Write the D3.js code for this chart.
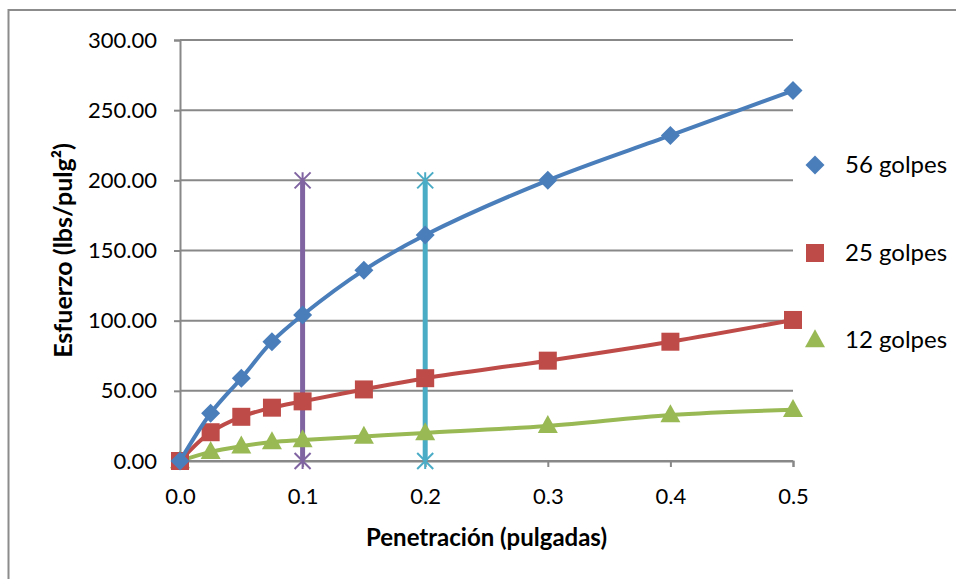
<!DOCTYPE html>
<html>
<head>
<meta charset="utf-8">
<script src="https://cdn.jsdelivr.net/npm/d3@7"></script>
<style>
  html, body { margin: 0; padding: 0; background: #fff; }
  svg { display: block; }
  text { font-family: Lato, "Open Sans", "Liberation Sans", sans-serif; fill: #000; }
</style>
</head>
<body>
<svg id="chart" width="956" height="579"></svg>
<script>
// Penetration (inches) for each reading
const penetracion = [0, 0.025, 0.05, 0.075, 0.1, 0.15, 0.2, 0.3, 0.4, 0.5];

// Stress (lbs/pulg²) per compaction level
const golpes56 = [0, 34, 59, 85, 104, 136, 161, 200, 232, 264];
const golpes25 = [0, 20.5, 31.5, 38, 42.5, 51, 59, 71.5, 85, 100.5];
const golpes12 = [0, 6.5, 10.5, 13.5, 15, 17.5, 20, 25, 32.8, 36.5];

// Reference lines at 0.1" and 0.2" penetration
const refX = [0.1, 0.2];
const refY = [0, 200];

const seriesNames = ["56 golpes", "25 golpes", "12 golpes"];
const xTicks = [0, 0.1, 0.2, 0.3, 0.4, 0.5];
const yTicks = [0, 50, 100, 150, 200, 250, 300];

const svg = d3.select("#chart");

// outer chart border
svg.append("rect")
  .attr("x", 8.5).attr("y", 10).attr("width", 1000).attr("height", 1000)
  .attr("fill", "none").attr("stroke", "#8c8c8c").attr("stroke-width", 2);

const x = d3.scaleLinear().domain([0, 0.5]).range([180, 793]);
const y = d3.scaleLinear().domain([0, 300]).range([461, 40]);

const grid = "#888888";
const fontStack = "Lato, 'Open Sans', sans-serif";

// horizontal gridlines
svg.append("g").selectAll("line").data(yTicks).join("line")
  .attr("x1", x(0)).attr("x2", x(0.5))
  .attr("y1", d => y(d)).attr("y2", d => y(d))
  .attr("stroke", grid).attr("stroke-width", 2);

// y axis
const yAxis = svg.append("g").attr("transform", `translate(${x(0)},0)`)
  .call(d3.axisLeft(y).tickValues(yTicks).tickSize(6).tickPadding(17)
    .tickFormat(d3.format(".2f")));
yAxis.select(".domain").attr("stroke", grid).attr("stroke-width", 2);
yAxis.selectAll(".tick line").attr("stroke", grid).attr("stroke-width", 2);
yAxis.selectAll(".tick text").attr("font-size", 22).attr("fill", "#000")
  .attr("font-family", fontStack);

// x axis
const xAxis = svg.append("g").attr("transform", `translate(0,${y(0)})`)
  .call(d3.axisBottom(x).tickValues(xTicks).tickSize(6).tickPadding(21)
    .tickFormat(d3.format(".1f")));
xAxis.select(".domain").attr("stroke", grid).attr("stroke-width", 2);
xAxis.selectAll(".tick line").attr("stroke", grid).attr("stroke-width", 2);
xAxis.selectAll(".tick text").attr("font-size", 22).attr("fill", "#000")
  .attr("font-family", fontStack);

// axis titles
svg.append("text")
  .attr("transform", `translate(72,${(y(0) + y(300)) / 2}) rotate(-90)`)
  .attr("text-anchor", "middle")
  .attr("font-size", 25).attr("font-weight", "bold")
  .text("Esfuerzo (lbs/pulg²)");

svg.append("text")
  .attr("x", (x(0) + x(0.5)) / 2).attr("y", 546)
  .attr("text-anchor", "middle")
  .attr("font-size", 24).attr("font-weight", "bold")
  .text("Penetración (pulgadas)");

// star marker (asterisk) used on the reference lines
function star(g, cx, cy, color) {
  const r = 8;
  g.append("path")
    .attr("d", `M${cx - r},${cy - r}L${cx + r},${cy + r}M${cx - r},${cy + r}L${cx + r},${cy - r}M${cx},${cy - r}L${cx},${cy + r}`)
    .attr("stroke", color).attr("stroke-width", 2).attr("fill", "none");
}

const refColors = ["#8064A2", "#4BACC6"];
refX.forEach((rx, i) => {
  const g = svg.append("g");
  g.append("line")
    .attr("x1", x(rx)).attr("x2", x(rx))
    .attr("y1", y(refY[0])).attr("y2", y(refY[1]))
    .attr("stroke", refColors[i]).attr("stroke-width", 5);
  refY.forEach(v => star(g, x(rx), y(v), refColors[i]));
});

// data series
const series = [
  { name: seriesNames[0], values: golpes56, color: "#4A7EBB", shape: "diamond" },
  { name: seriesNames[1], values: golpes25, color: "#BE4B48", shape: "square" },
  { name: seriesNames[2], values: golpes12, color: "#98B954", shape: "triangle" }
];

const line = d3.line()
  .x(d => x(d[0])).y(d => y(d[1]))
  .curve(d3.curveCatmullRom.alpha(0.5));

function marker(g, shape, cx, cy, color) {
  if (shape === "diamond") {
    const r = 9.5;
    g.append("path").attr("d", `M${cx},${cy - r}L${cx + r},${cy}L${cx},${cy + r}L${cx - r},${cy}Z`)
      .attr("fill", color);
  } else if (shape === "square") {
    const s = 18;
    g.append("rect").attr("x", cx - s / 2).attr("y", cy - s / 2).attr("width", s).attr("height", s)
      .attr("fill", color);
  } else {
    const w = 20, h = 18;
    g.append("path").attr("d", `M${cx},${cy - h * 0.6}L${cx + w / 2},${cy + h * 0.4}L${cx - w / 2},${cy + h * 0.4}Z`)
      .attr("fill", color);
  }
}

// draw in reverse so blue sits on top
series.slice().reverse().forEach(s => {
  const pts = penetracion.map((p, i) => [p, s.values[i]]);
  const g = svg.append("g");
  g.append("path").datum(pts).attr("d", line)
    .attr("fill", "none").attr("stroke", s.color).attr("stroke-width", 4)
    .attr("stroke-linejoin", "round");
  pts.forEach(p => marker(g, s.shape, x(p[0]), y(p[1]), s.color));
});

// legend
const legendY = [165, 253, 340];
series.forEach((s, i) => {
  const g = svg.append("g");
  marker(g, s.shape, 815, legendY[i], s.color);
  g.append("text").attr("x", 845).attr("y", legendY[i] + 8)
    .attr("font-size", 24).text(s.name);
});
</script>
</body>
</html>
